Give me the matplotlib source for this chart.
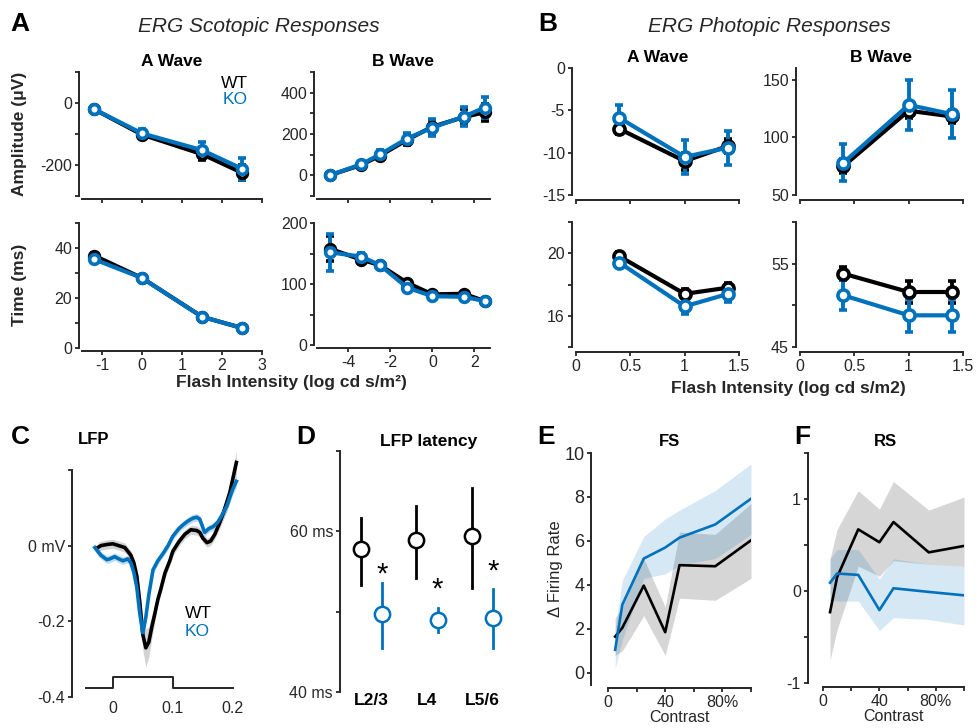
import matplotlib
matplotlib.use("Agg")
import matplotlib.pyplot as plt
import numpy as np

plt.rcParams['font.family'] = ['Liberation Sans', 'DejaVu Sans']
plt.rcParams['axes.linewidth'] = 1.4

BLUE = '#0072BD'
DARK = '#262626'
W, H = 977, 728

# ---------------- data ----------------
# Scotopic (panel A)
sco_a_x = [-1.2, 0, 1.5, 2.5]
sco_a_amp_wt = [-20, -102, -165, -225]
sco_a_amp_wt_err = [5, 12, 20, 25]
sco_a_amp_ko = [-20, -98, -152, -212]
sco_a_amp_ko_err = [5, 15, 25, 35]
sco_a_time_wt = [37, 28, 12.5, 8]
sco_a_time_wt_err = [1, 0.8, 0.8, 0.5]
sco_a_time_ko = [35.5, 28, 12.5, 8]
sco_a_time_ko_err = [1, 0.8, 0.8, 0.5]

sco_b_x = [-4.9, -3.4, -2.5, -1.2, 0, 1.5, 2.5]
sco_b_amp_wt = [0, 50, 95, 172, 235, 282, 305]
sco_b_amp_wt_err = [8, 12, 18, 25, 35, 40, 40]
sco_b_amp_ko = [0, 53, 101, 178, 231, 284, 328]
sco_b_amp_ko_err = [8, 12, 20, 28, 40, 45, 50]
sco_b_time_wt = [158, 140, 131, 102, 83, 84, 72]
sco_b_time_wt_err = [20, 5, 5, 4, 3, 3, 3]
sco_b_time_ko = [152, 145, 131, 94, 80, 79, 72]
sco_b_time_ko_err = [30, 6, 5, 4, 3, 3, 3]

# Photopic (panel B)
pho_x = [0.4, 1.0, 1.4]
pho_a_amp_wt = [-7.2, -11.0, -9.2]
pho_a_amp_wt_err = [0.6, 1.0, 0.8]
pho_a_amp_ko = [-5.9, -10.5, -9.4]
pho_a_amp_ko_err = [1.5, 2.0, 2.0]
pho_b_amp_wt = [75, 123, 118]
pho_b_amp_wt_err = [6, 6, 6]
pho_b_amp_ko = [78, 128, 120]
pho_b_amp_ko_err = [16, 22, 21]
pho_a_time_wt = [19.8, 17.4, 17.8]
pho_a_time_wt_err = [0.3, 0.3, 0.3]
pho_a_time_ko = [19.4, 16.6, 17.4]
pho_a_time_ko_err = [0.3, 0.5, 0.5]
pho_b_time_wt = [53.8, 51.6, 51.6]
pho_b_time_wt_err = [0.8, 1.3, 1.3]
pho_b_time_ko = [51.2, 48.8, 48.8]
pho_b_time_ko_err = [1.8, 2.0, 2.0]

# LFP traces (panel C)
lfp_t_wt = [-0.025, -0.02, -0.01, 0.0, 0.01, 0.02, 0.03, 0.035, 0.04, 0.045, 0.05, 0.055,
            0.06, 0.065, 0.07, 0.075, 0.08, 0.087, 0.095, 0.1, 0.11, 0.12, 0.13, 0.14,
            0.145, 0.15, 0.157, 0.163, 0.17, 0.178, 0.185, 0.195, 0.206]
lfp_v_wt = [-0.005, 0.0, 0.003, 0.005, 0.0, -0.005, -0.025, -0.045, -0.08, -0.15, -0.235, -0.27,
            -0.255, -0.215, -0.18, -0.143, -0.115, -0.072, -0.04, -0.015, 0.01, 0.03, 0.042, 0.04,
            0.035, 0.02, 0.008, 0.012, 0.03, 0.06, 0.09, 0.14, 0.22]
lfp_sem_wt = [0.012] * 8 + [0.02, 0.03, 0.04, 0.05, 0.04, 0.03, 0.02] + [0.012] * 14 + [0.015, 0.02, 0.025, 0.03]
lfp_t_ko = [-0.03, -0.02, -0.01, -0.005, 0.003, 0.01, 0.017, 0.025, 0.03, 0.035, 0.04, 0.045,
            0.05, 0.055, 0.06, 0.067, 0.075, 0.084, 0.092, 0.1, 0.11, 0.117, 0.125, 0.134,
            0.14, 0.145, 0.153, 0.16, 0.167, 0.175, 0.181, 0.19, 0.2, 0.206]
lfp_v_ko = [-0.005, -0.025, -0.037, -0.035, -0.029, -0.035, -0.04, -0.035, -0.045, -0.07, -0.11, -0.18,
            -0.23, -0.19, -0.13, -0.064, -0.04, -0.02, 0.0, 0.025, 0.045, 0.055, 0.065, 0.073,
            0.075, 0.07, 0.035, 0.045, 0.05, 0.062, 0.078, 0.105, 0.15, 0.17]
lfp_sem_ko = [0.01] * 10 + [0.015, 0.02, 0.02, 0.015] + [0.01] * 16 + [0.012, 0.015, 0.015, 0.015]
stim_t = [-0.045, 0, 0, 0.1, 0.1, 0.2]
stim_v = [-0.377, -0.377, -0.347, -0.347, -0.377, -0.377]

# LFP latency (panel D)
layers = ['L2/3', 'L4', 'L5/6']
lat_wt = [57.8, 58.9, 59.4]
lat_wt_lo = [53.3, 54.2, 53.0]
lat_wt_hi = [61.7, 63.1, 65.4]
lat_ko = [49.7, 49.0, 49.2]
lat_ko_lo = [45.5, 47.5, 45.5]
lat_ko_hi = [53.6, 50.4, 52.8]
star_y = [54.6, 52.7, 55.0]

# Contrast responses (panels E, F)
contrast = [5, 10, 25, 40, 50, 75, 100]
fs_wt = [1.65, 2.05, 3.97, 1.85, 4.9, 4.85, 6.03]
fs_wt_lo = [0.8, 1.0, 2.6, 0.8, 3.4, 3.3, 4.3]
fs_wt_hi = [2.5, 3.0, 5.2, 3.0, 6.4, 6.3, 7.7]
fs_ko = [1.05, 3.1, 5.2, 5.7, 6.15, 6.75, 7.92]
fs_ko_lo = [0.2, 1.5, 4.3, 4.5, 4.9, 5.2, 6.3]
fs_ko_hi = [2.0, 4.2, 6.2, 7.0, 7.4, 8.3, 9.5]
rs_wt = [-0.23, 0.15, 0.67, 0.53, 0.75, 0.42, 0.49]
rs_wt_lo = [-0.75, -0.42, 0.27, 0.16, 0.33, 0.29, 0.27]
rs_wt_hi = [0.35, 0.67, 1.09, 0.89, 1.19, 0.88, 1.02]
rs_ko = [0.09, 0.19, 0.175, -0.207, 0.03, -0.01, -0.047]
rs_ko_lo = [-0.09, -0.11, -0.11, -0.43, -0.29, -0.31, -0.37]
rs_ko_hi = [0.35, 0.45, 0.45, 0.13, 0.35, 0.29, 0.27]

# ---------------- figure ----------------
fig = plt.figure(figsize=(W / 100, H / 100), dpi=100)
TFS = 11.5


def ax_px(x0, y0, x1, y1):
    return fig.add_axes([x0 / W, 1 - y1 / H, (x1 - x0) / W, (y1 - y0) / H])


def style(ax, left_off=2, bottom_off=2, fs=TFS):
    for s in ['top', 'right']:
        ax.spines[s].set_visible(False)
    ax.spines['left'].set_position(('outward', left_off))
    ax.spines['bottom'].set_position(('outward', bottom_off))
    for s in ['left', 'bottom']:
        ax.spines[s].set_color(DARK)
    ax.tick_params(colors=DARK, labelsize=fs, length=3, width=1.3, pad=2)
    ax.patch.set_alpha(0)


def erg(ax, x, wt, wte, ko, koe, ms=7):
    kw = dict(lw=3.0, marker='o', ms=ms, mfc='white', mew=2.6, capsize=3,
              capthick=2.8, elinewidth=2.8, clip_on=False)
    ax.errorbar(x, wt, yerr=wte, color='black', mec='black', **kw)
    ax.errorbar(x, ko, yerr=koe, color=BLUE, mec=BLUE, **kw)


def ticks(ax, axis, vals, labels=None):
    if axis == 'x':
        ax.set_xticks(vals)
        ax.set_xticklabels(labels if labels is not None else [''] * len(vals))
    else:
        ax.set_yticks(vals)
        ax.set_yticklabels(labels if labels is not None else [str(v) for v in vals])


# Panel A
a1 = ax_px(82, 72, 262, 196)
style(a1)
erg(a1, sco_a_x, sco_a_amp_wt, sco_a_amp_wt_err, sco_a_amp_ko, sco_a_amp_ko_err)
a1.set_xlim(-1.5, 3); a1.set_ylim(-300, 100)
ticks(a1, 'x', [-1, 0, 1, 2, 3])
ticks(a1, 'y', [-300, -200, -100, 0, 100], ['', '-200', '', '0', ''])
a1.set_title('A Wave', fontsize=12.5, fontweight='bold', pad=4)

a2 = ax_px(317, 72, 490, 196)
style(a2)
erg(a2, sco_b_x, sco_b_amp_wt, sco_b_amp_wt_err, sco_b_amp_ko, sco_b_amp_ko_err)
a2.set_xlim(-5.5, 2.75); a2.set_ylim(-100, 500)
ticks(a2, 'x', [-4, -2, 0, 2])
ticks(a2, 'y', [-100, 0, 100, 200, 300, 400, 500], ['', '0', '', '200', '', '400', ''])
a2.set_title('B Wave', fontsize=12.5, fontweight='bold', pad=4)

a3 = ax_px(82, 223, 262, 348)
style(a3)
erg(a3, sco_a_x, sco_a_time_wt, sco_a_time_wt_err, sco_a_time_ko, sco_a_time_ko_err)
a3.set_xlim(-1.5, 3); a3.set_ylim(0, 50)
ticks(a3, 'x', [-1, 0, 1, 2, 3], ['-1', '0', '1', '2', '3'])
ticks(a3, 'y', [0, 10, 20, 30, 40, 50], ['0', '', '20', '', '40', ''])

a4 = ax_px(317, 223, 490, 345)
style(a4)
erg(a4, sco_b_x, sco_b_time_wt, sco_b_time_wt_err, sco_b_time_ko, sco_b_time_ko_err)
a4.set_xlim(-5.5, 2.75); a4.set_ylim(0, 200)
ticks(a4, 'x', [-4, -2, 0, 2], ['-4', '-2', '0', '2'])
ticks(a4, 'y', [0, 50, 100, 150, 200], ['0', '', '100', '', '200'])

# Panel B
b1 = ax_px(576, 68, 739, 195)
style(b1, 3, 3.5)
erg(b1, pho_x, pho_a_amp_wt, pho_a_amp_wt_err, pho_a_amp_ko, pho_a_amp_ko_err, ms=8)
b1.set_xlim(0, 1.5); b1.set_ylim(-15, 0)
ticks(b1, 'x', [0, 0.5, 1, 1.5])
ticks(b1, 'y', [-15, -10, -5, 0])
b1.set_title('A Wave', fontsize=12.5, fontweight='bold', pad=4)

b2 = ax_px(800, 68, 963, 195)
style(b2, 3, 3.5)
erg(b2, pho_x, pho_b_amp_wt, pho_b_amp_wt_err, pho_b_amp_ko, pho_b_amp_ko_err, ms=8)
b2.set_xlim(0, 1.5); b2.set_ylim(50, 160)
ticks(b2, 'x', [0, 0.5, 1, 1.5])
ticks(b2, 'y', [50, 100, 150])
b2.set_title('B Wave', fontsize=12.5, fontweight='bold', pad=4)

b3 = ax_px(576, 222, 739, 347)
style(b3, 3, 3.5)
erg(b3, pho_x, pho_a_time_wt, pho_a_time_wt_err, pho_a_time_ko, pho_a_time_ko_err, ms=8)
b3.set_xlim(0, 1.5); b3.set_ylim(14, 22)
ticks(b3, 'x', [0, 0.5, 1, 1.5], ['0', '0.5', '1', '1.5'])
ticks(b3, 'y', [14, 16, 18, 20, 22], ['', '16', '', '20', ''])

b4 = ax_px(800, 222, 963, 347)
style(b4, 3, 3.5)
erg(b4, pho_x, pho_b_time_wt, pho_b_time_wt_err, pho_b_time_ko, pho_b_time_ko_err, ms=8)
b4.set_xlim(0, 1.5); b4.set_ylim(45, 60)
ticks(b4, 'x', [0, 0.5, 1, 1.5], ['0', '0.5', '1', '1.5'])
ticks(b4, 'y', [45, 50, 55, 60], ['45', '', '55', ''])

# Panel C
c = ax_px(72, 470, 240, 697)
style(c, 0, 0)
c.spines['bottom'].set_visible(False)
wt_v = np.array(lfp_v_wt); wt_s = np.array(lfp_sem_wt)
ko_v = np.array(lfp_v_ko); ko_s = np.array(lfp_sem_ko)
c.fill_between(lfp_t_wt, wt_v - wt_s, wt_v + wt_s, color='#d3d3d3', lw=0, clip_on=False)
c.fill_between(lfp_t_ko, ko_v - ko_s, ko_v + ko_s, color=BLUE, alpha=0.25, lw=0, clip_on=False)
c.plot(lfp_t_wt, lfp_v_wt, color='black', lw=2.6, clip_on=False)
c.plot(lfp_t_ko, lfp_v_ko, color=BLUE, lw=2.6, clip_on=False)
c.plot(stim_t, stim_v, color=DARK, lw=1.4, clip_on=False)
c.set_xlim(-0.068, 0.212); c.set_ylim(-0.4, 0.2)
c.set_xticks([0, 0.1, 0.2]); c.set_xticklabels(['0', '0.1', '0.2'])
c.tick_params(axis='x', length=0, pad=3)
ticks(c, 'y', [-0.4, -0.2, 0, 0.2], ['-0.4', '-0.2', '0 mV', ''])
c.text(0.12, -0.178, 'WT', color='black', fontsize=12.5, va='center', ha='left')
c.text(0.12, -0.226, 'KO', color=BLUE, fontsize=12.5, va='center', ha='left')

# Panel D
d = ax_px(340, 451, 505, 692)
style(d, 0, 0)
d.spines['bottom'].set_visible(False)
xpos = np.arange(len(layers))
off = 0.19
for i in range(len(layers)):
    d.plot([xpos[i] - off] * 2, [lat_wt_lo[i], lat_wt_hi[i]], color='black', lw=2.0, zorder=2)
    d.plot([xpos[i] + off] * 2, [lat_ko_lo[i], lat_ko_hi[i]], color=BLUE, lw=2.0, zorder=2)
    d.text(xpos[i] + off, star_y[i], '*', fontsize=21, ha='center', va='center', color='black')
d.plot(xpos - off, lat_wt, 'o', ms=11, mfc='white', mec='black', mew=1.8, zorder=3)
d.plot(xpos + off, lat_ko, 'o', ms=11, mfc='white', mec=BLUE, mew=1.8, zorder=3)
d.set_xlim(-0.56, 2.4); d.set_ylim(40, 70)
d.set_xticks(xpos); d.set_xticklabels(layers, fontweight='bold', fontsize=12.5)
d.tick_params(axis='x', length=0, pad=1, colors='black')
ticks(d, 'y', [40, 50, 60, 70], ['40 ms', '', '60 ms', ''])

# Panel E
e = ax_px(608, 453, 751, 685)
style(e, 12, 2.2)
e.fill_between(contrast, fs_wt_lo, fs_wt_hi, color='#d6d6d6', lw=0)
e.fill_between(contrast, fs_ko_lo, fs_ko_hi, color=BLUE, alpha=0.16, lw=0)
e.plot(contrast, fs_wt, color='black', lw=1.9)
e.plot(contrast, fs_ko, color=BLUE, lw=1.9)
e.set_xlim(0, 100); e.set_ylim(-0.55, 10)
ticks(e, 'x', [0, 20, 40, 60, 80, 100], ['0', '', '40', '', '80%', ''])
ticks(e, 'y', [0, 2, 4, 6, 8, 10])
e.tick_params(axis='y', labelsize=13)
e.set_xlabel('Contrast', fontsize=11.5, labelpad=0, color=DARK)
e.set_ylabel('\u0394 Firing Rate', fontsize=12, labelpad=1, color=DARK)

# Panel F
f = ax_px(823, 453, 964, 683)
style(f, 11, 3)
f.fill_between(contrast, rs_wt_lo, rs_wt_hi, color='#d6d6d6', lw=0)
f.fill_between(contrast, rs_ko_lo, rs_ko_hi, color=BLUE, alpha=0.16, lw=0)
f.plot(contrast, rs_wt, color='black', lw=1.9)
f.plot(contrast, rs_ko, color=BLUE, lw=1.9)
f.set_xlim(0, 100); f.set_ylim(-1, 1.5)
ticks(f, 'x', [0, 20, 40, 60, 80, 100], ['0', '', '40', '', '80%', ''])
ticks(f, 'y', [-1, -0.5, 0, 0.5, 1, 1.5], ['-1', '', '0', '', '1', ''])
f.set_xlabel('Contrast', fontsize=11.5, labelpad=0, color=DARK)

# ---------------- figure texts ----------------
def ftext(x, y, s, **kw):
    fig.text(x / W, 1 - y / H, s, **kw)

for lx, ly, lt in [(20, 24, 'A'), (548, 24, 'B'), (20, 437, 'C'), (306, 437, 'D'),
                   (546, 437, 'E'), (802, 437, 'F')]:
    ftext(lx, ly, lt, fontsize=19, fontweight='bold', ha='center', va='center')
ftext(259, 27, 'ERG Scotopic Responses', fontsize=15, style='italic', ha='center', va='center', color=DARK)
ftext(769, 27, 'ERG Photopic Responses', fontsize=15, style='italic', ha='center', va='center', color=DARK)
ftext(248, 83, 'WT', fontsize=12.5, ha='right', va='center', color='black')
ftext(248, 100, 'KO', fontsize=12.5, ha='right', va='center', color=BLUE)
ftext(20, 134, 'Amplitude (\u03bcV)', fontsize=12.5, fontweight='bold', rotation=90, ha='center', va='center', color=DARK)
ftext(20, 285, 'Time (ms)', fontsize=12.5, fontweight='bold', rotation=90, ha='center', va='center', color=DARK)
ftext(291, 383, 'Flash Intensity (log cd s/m\u00b2)', fontsize=12.5, fontweight='bold', ha='center', va='center', color=DARK)
ftext(788, 389, 'Flash Intensity (log cd s/m2)', fontsize=12.5, fontweight='bold', ha='center', va='center', color=DARK)
ftext(94, 440, 'LFP', fontsize=12, fontweight='bold', ha='center', va='center')
ftext(429, 442, 'LFP latency', fontsize=12.5, fontweight='bold', ha='center', va='center')
ftext(670, 442, 'FS', fontsize=12, fontweight='bold', ha='center', va='center')
ftext(885, 442, 'RS', fontsize=12, fontweight='bold', ha='center', va='center')

fig.savefig('out.png', dpi=100)
